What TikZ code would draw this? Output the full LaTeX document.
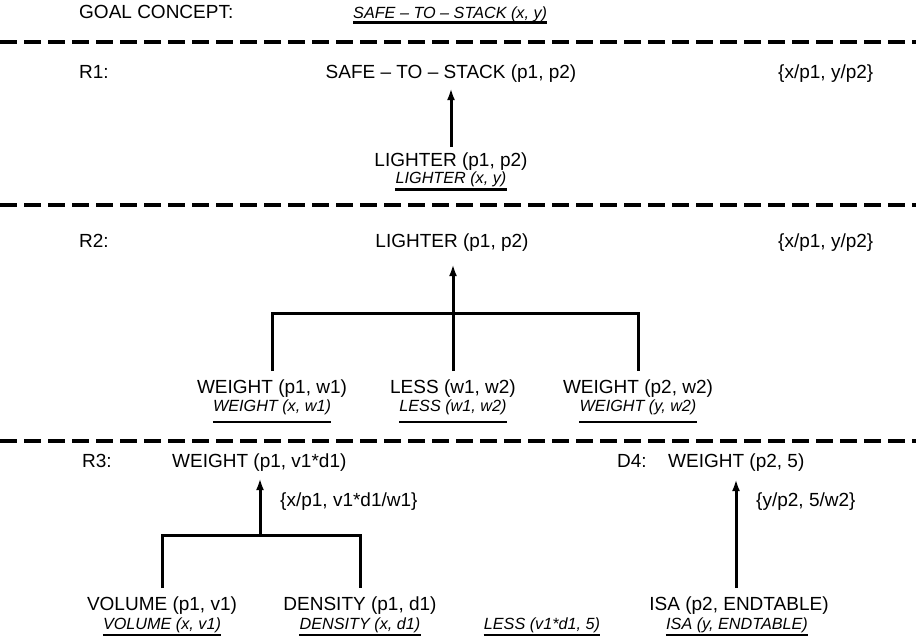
\documentclass[tikz,border=0pt]{standalone}
\usepackage{fontspec}
\setmainfont{Liberation Sans}
\usetikzlibrary{arrows.meta}
\tikzset{
  main/.style={font=\fontsize{19}{22}\selectfont, inner sep=0pt, anchor=base},
  ital/.style={font=\fontsize{16.2}{19}\selectfont\itshape, inner sep=0pt, anchor=base},
  lab/.style={main, anchor=base west},
  conn/.style={line width=3pt},
  arr/.style={conn, -{Latex[length=12pt,width=8pt]}},
  uline/.style={line width=2.2pt},
  sepline/.style={line width=3.3pt, dash pattern=on 17pt off 7pt}
}
\begin{document}
\begin{tikzpicture}[x=1pt,y=-1pt]
\useasboundingbox (0,0) rectangle (916,638);
% separators
\coordinate (s1a) at (0,42);  \coordinate (s1b) at (916,42);
\coordinate (s2a) at (0,205); \coordinate (s2b) at (916,205);
\coordinate (s3a) at (0,441); \coordinate (s3b) at (916,441);
\draw[sepline] (s1a) -- (s1b);
\draw[sepline] (s2a) -- (s2b);
\draw[sepline] (s3a) -- (s3b);
% goal
\node[lab] (goal) at (79,18.5) {GOAL CONCEPT:};
\node[ital, anchor=base west] (goalc) at (353,18.5) {SAFE – TO – STACK (x, y)};
\draw[uline] ([yshift=-4pt]goalc.base west) -- ([yshift=-4pt]goalc.base east);
% R1
\node[lab] (r1) at (79,78) {R1:};
\node[main] (s1) at (451,78) {SAFE – TO – STACK (p1, p2)};
\node[lab] (b1) at (778,78) {\{x/p1, y/p2\}};
\node[main] (l1) at (451,166) {LIGHTER (p1, p2)};
\node[ital] (l1i) at (451,183) {LIGHTER (x, y)};
\draw[uline] ([yshift=-6.5pt]l1i.base west) -- ([yshift=-6.5pt]l1i.base east);
\draw[arr, shorten <=5pt, shorten >=6pt] (l1.north) -- (l1.north |- s1.south);
% R2
\node[lab] (r2) at (79,247) {R2:};
\node[main] (l2) at (452,247) {LIGHTER (p1, p2)};
\node[lab] (b2) at (778,247) {\{x/p1, y/p2\}};
\node[main] (w1) at (272,393) {WEIGHT (p1, w1)};
\node[main] (ls) at (453,393) {LESS (w1, w2)};
\node[main] (w2) at (638,393) {WEIGHT (p2, w2)};
\node[ital] (w1i) at (272,411) {WEIGHT (x, w1)};
\node[ital] (lsi) at (453,411) {LESS (w1, w2)};
\node[ital] (w2i) at (638,411) {WEIGHT (y, w2)};
\draw[uline] ([yshift=-11pt]w1i.base west) -- ([yshift=-11pt]w1i.base east);
\draw[uline] ([yshift=-11pt]lsi.base west) -- ([yshift=-11pt]lsi.base east);
\draw[uline] ([yshift=-11pt]w2i.base west) -- ([yshift=-11pt]w2i.base east);
\coordinate (j2) at (453,313);
\draw[conn, shorten <=8pt, shorten >=8pt] (w1.north) |- (j2) -| (w2.north);
\draw[conn, shorten <=8pt] (ls.north) -- (j2);
\draw[arr, shorten >=13pt] (j2) -- (j2 |- l2.south);
% R3
\node[lab] (r3) at (82,467) {R3:};
\node[main, anchor=base west] (w3) at (172,467) {WEIGHT (p1, v1*d1)};
\node[lab] (b3) at (280,506) {\{x/p1, v1*d1/w1\}};
\node[main] (vo) at (162,610) {VOLUME (p1, v1)};
\node[main] (de) at (360,610) {DENSITY (p1, d1)};
\node[ital] (voi) at (162,629) {VOLUME (x, v1)};
\node[ital] (dei) at (360,629) {DENSITY (x, d1)};
\draw[uline] ([yshift=-6pt]voi.base west) -- ([yshift=-6pt]voi.base east);
\draw[uline] ([yshift=-6pt]dei.base west) -- ([yshift=-6pt]dei.base east);
\coordinate (j3) at (260,535);
\draw[conn, shorten <=8pt, shorten >=8pt] (vo.north) |- (j3) -| (de.north);
\draw[arr, shorten >=7pt] (j3) -- (j3 |- w3.south);
% LESS
\node[ital] (lv) at (542,629) {LESS (v1*d1, 5)};
\draw[uline] ([yshift=-6pt]lv.base west) -- ([yshift=-6pt]lv.base east);
% D4
\node[lab] (d4) at (617,467) {D4:};
\node[main, anchor=base west] (w4) at (668,467) {WEIGHT (p2, 5)};
\node[lab] (b4) at (756,506) {\{y/p2, 5/w2\}};
\node[main] (isa) at (739,610) {ISA (p2, ENDTABLE)};
\node[ital] (isai) at (737,629) {ISA (y, ENDTABLE)};
\draw[uline] ([yshift=-6pt]isai.base west) -- ([yshift=-6pt]isai.base east);
\draw[arr, shorten <=8pt, shorten >=8pt] ([xshift=-3pt]isa.north) -- ([xshift=-3pt]isa.north |- w4.south);
\end{tikzpicture}
\end{document}
